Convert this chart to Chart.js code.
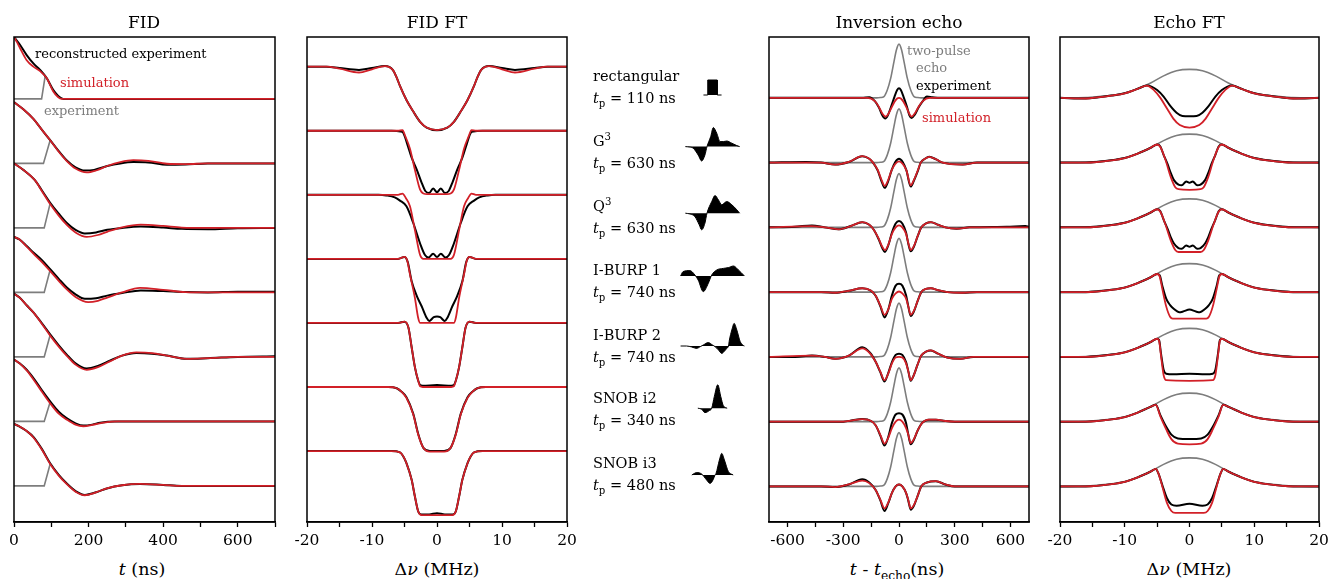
<!DOCTYPE html>
<html>
<head>
<meta charset="utf-8">
<script src="https://cdn.jsdelivr.net/npm/chart.js@4.4.0/dist/chart.umd.min.js"></script>
<style>
  body { margin: 0; width: 1330px; height: 579px; overflow: hidden; background: #fff; font-family: "DejaVu Serif", serif; color: #000; }
  canvas { position: absolute; }
  .t { position: absolute; white-space: nowrap; line-height: 1; }
  .title { font-size: 17px; width: 240px; text-align: center; top: 14px; }
  .axis { font-size: 17.5px; width: 240px; text-align: center; top: 561px; }
  .name { font-size: 14.5px; left: 593px; }
  .note { font-size: 13px; }
  .red { color: rgb(210, 32, 40); }
  .gray { color: rgb(125, 125, 125); }
  sub, sup { font-size: 70%; line-height: 0; }
</style>
</head>
<body>

<canvas id="fid" width="305" height="525" style="left:-8px;top:29px;width:305px;height:525px"></canvas>
<canvas id="fidft" width="304" height="525" style="left:285px;top:29px;width:304px;height:525px"></canvas>
<canvas id="pulses" width="69" height="485" style="left:678px;top:37px;width:69px;height:485px"></canvas>
<canvas id="echo" width="304" height="525" style="left:747px;top:29px;width:304px;height:525px"></canvas>
<canvas id="echoft" width="303" height="525" style="left:1038px;top:29px;width:303px;height:525px"></canvas>

<div class="t title" style="left:24px">FID</div>
<div class="t title" style="left:317px">FID FT</div>
<div class="t title" style="left:779px">Inversion echo</div>
<div class="t title" style="left:1069px">Echo FT</div>

<div class="t axis" style="left:22px"><i>t</i> (ns)</div>
<div class="t axis" style="left:317px">Δ<i>ν</i> (MHz)</div>
<div class="t axis" style="left:777px"><i>t</i> - <i>t</i><sub>echo</sub>(ns)</div>
<div class="t axis" style="left:1069px">Δ<i>ν</i> (MHz)</div>

<div class="t note" style="left:35px;top:47px">reconstructed experiment</div>
<div class="t note red" style="left:60px;top:76px">simulation</div>
<div class="t note gray" style="left:44px;top:104px">experiment</div>

<div class="t note gray" style="left:907px;top:44px">two-pulse</div>
<div class="t note gray" style="left:916px;top:61px">echo</div>
<div class="t note" style="left:916px;top:79px">experiment</div>
<div class="t note red" style="left:922px;top:111px">simulation</div>

<div class="t name" style="top:69px">rectangular</div>
<div class="t name" style="top:91px"><i>t</i><sub>p</sub> = 110 ns</div>
<div class="t name" style="top:134px">G<sup>3</sup></div>
<div class="t name" style="top:156px"><i>t</i><sub>p</sub> = 630 ns</div>
<div class="t name" style="top:199px">Q<sup>3</sup></div>
<div class="t name" style="top:221px"><i>t</i><sub>p</sub> = 630 ns</div>
<div class="t name" style="top:263px">I-BURP 1</div>
<div class="t name" style="top:285px"><i>t</i><sub>p</sub> = 740 ns</div>
<div class="t name" style="top:328px">I-BURP 2</div>
<div class="t name" style="top:350px"><i>t</i><sub>p</sub> = 740 ns</div>
<div class="t name" style="top:391px">SNOB i2</div>
<div class="t name" style="top:413px"><i>t</i><sub>p</sub> = 340 ns</div>
<div class="t name" style="top:456px">SNOB i3</div>
<div class="t name" style="top:478px"><i>t</i><sub>p</sub> = 480 ns</div>

<script>
// pulses, top to bottom: rectangular, G3, Q3, I-BURP 1, I-BURP 2, SNOB i2, SNOB i3

//--- FID: t (ns), amplitude in trace spacings ---//
const fidTicks = [0, 100, 200, 300, 400, 500, 600, 700];
const fidLabels = [0, 200, 400, 600];

// reconstructed experiment
const fidExp = [
  [[0,0.96],[8,0.9],[16,0.84],[34,0.68],[52,0.55],[70,0.45],[88,0.32],[105,0.14],[118,0.05],[132,0],[700,0]],
  [[0,0.95],[25,0.84],[52,0.69],[75,0.52],[97,0.36],[120,0.19],[141,0.05],[165,-0.06],[190,-0.11],[215,-0.1],[250,-0.04],[285,0],[320,0.02],[360,0.015],[410,-0.02],[460,-0.015],[520,0],[700,0]],
  [[0,1.0],[25,0.9],[56,0.74],[75,0.58],[97,0.39],[120,0.22],[141,0.08],[165,-0.03],[190,-0.085],[220,-0.07],[250,-0.03],[290,0],[340,0.02],[400,0.005],[450,-0.015],[520,-0.02],[600,-0.005],[700,0]],
  [[0,0.86],[15,0.82],[34,0.72],[52,0.62],[75,0.5],[97,0.36],[120,0.21],[141,0.08],[165,-0.03],[190,-0.1],[220,-0.09],[250,-0.05],[290,-0.01],[340,0.03],[400,0.02],[460,0.005],[520,0],[600,0.01],[700,0.01]],
  [[0,0.98],[15,0.92],[34,0.8],[52,0.69],[75,0.52],[97,0.35],[120,0.18],[141,0.04],[165,-0.1],[195,-0.18],[225,-0.14],[257,-0.06],[290,0.02],[328,0.06],[370,0.05],[410,0.02],[463,-0.03],[520,-0.02],[600,0],[700,0.01]],
  [[0,0.96],[15,0.9],[34,0.8],[56,0.64],[75,0.48],[97,0.31],[120,0.15],[141,0.05],[165,-0.03],[186,-0.065],[210,-0.05],[231,-0.02],[270,0],[700,0]],
  [[0,0.96],[15,0.92],[34,0.85],[52,0.76],[75,0.57],[97,0.35],[120,0.17],[141,0.04],[165,-0.08],[190,-0.14],[220,-0.1],[249,-0.04],[290,0.01],[338,0.03],[400,0.015],[450,0],[700,0]]
];
// simulation
const fidSim = [
  [[0,0.96],[8,0.88],[16,0.79],[34,0.6],[52,0.5],[70,0.43],[88,0.32],[105,0.12],[118,0.03],[127,0],[700,0]],
  [[0,0.95],[25,0.84],[52,0.69],[75,0.52],[97,0.36],[120,0.18],[141,0.04],[165,-0.08],[195,-0.14],[220,-0.11],[250,-0.04],[285,0.02],[320,0.05],[360,0.04],[410,-0.005],[460,-0.01],[520,0],[700,0]],
  [[0,1.0],[25,0.9],[56,0.74],[75,0.57],[97,0.37],[120,0.19],[141,0.05],[165,-0.07],[195,-0.14],[225,-0.11],[250,-0.06],[290,0.01],[340,0.05],[400,0.03],[450,0.005],[520,0],[700,0]],
  [[0,0.86],[15,0.82],[34,0.71],[52,0.6],[75,0.47],[97,0.33],[120,0.18],[141,0.05],[165,-0.07],[199,-0.15],[225,-0.13],[250,-0.08],[290,0],[338,0.07],[400,0.04],[460,0.005],[520,0],[700,0]],
  [[0,0.98],[15,0.92],[34,0.8],[52,0.69],[75,0.51],[97,0.33],[120,0.16],[141,0.02],[165,-0.12],[195,-0.2],[225,-0.16],[257,-0.07],[290,0.02],[328,0.07],[370,0.06],[410,0.02],[463,-0.03],[520,-0.02],[600,0],[700,0]],
  [[0,0.96],[15,0.9],[34,0.79],[56,0.62],[75,0.46],[97,0.28],[120,0.12],[141,0.03],[165,-0.05],[186,-0.075],[210,-0.055],[240,-0.02],[280,0],[700,0]],
  [[0,0.96],[15,0.92],[34,0.85],[52,0.75],[75,0.56],[97,0.34],[120,0.16],[141,0.03],[165,-0.09],[190,-0.145],[220,-0.1],[249,-0.04],[290,0.01],[338,0.03],[400,0.015],[450,0],[700,0]]
];
// measured experiment, flat until the dead time is over
const fidRaw = [
  [[0,0],[74,0],[84,0.37]],
  [[0,0],[79,0],[97,0.36]],
  [[0,0],[81,0],[97,0.38]],
  [[0,0],[81,0],[97,0.35]],
  [[0,0],[81,0],[97,0.34]],
  [[0,0],[81,0],[97,0.3]],
  [[0,0],[81,0],[97,0.34]]
];

//--- FID FT: frequency offset (MHz) ---//
const freqTicks = [-20, -15, -10, -5, 0, 5, 10, 15, 20];
const freqLabels = [-20, -10, 0, 10, 20];

const ftExp = [
  [[-20,0],[-17,0],[-15,-0.02],[-12,-0.05],[-10,-0.02],[-8,0.01],[-6.8,-0.05],[-6.2,-0.17],[-5.7,-0.3],[-4.7,-0.52],[-3.65,-0.7],[-2.6,-0.86],[-1.6,-0.95],[0,-0.99],[1.6,-0.95],[2.6,-0.86],[3.65,-0.7],[4.7,-0.52],[5.7,-0.3],[6.2,-0.17],[6.8,-0.05],[8,0.01],[10,-0.02],[12,-0.05],[15,-0.02],[17,0],[20,0]],
  [[-20,0],[-7,0],[-5.6,-0.01],[-5.2,-0.03],[-4.6,-0.2],[-3.9,-0.42],[-3.1,-0.61],[-2.4,-0.8],[-1.8,-0.94],[-1.2,-0.97],[-0.6,-0.9],[0,-0.96],[0.6,-0.9],[1.2,-0.97],[1.8,-0.94],[2.4,-0.8],[3.1,-0.61],[3.9,-0.42],[4.6,-0.2],[5.2,-0.03],[5.6,-0.01],[7,0],[20,0]],
  [[-20,0],[-9,0],[-7.8,-0.01],[-6.5,-0.04],[-5.7,-0.09],[-4.7,-0.18],[-3.65,-0.44],[-2.6,-0.76],[-1.85,-0.94],[-1.3,-0.98],[-0.6,-0.92],[0,-0.97],[0.6,-0.92],[1.3,-0.98],[1.85,-0.94],[2.6,-0.76],[3.65,-0.44],[4.7,-0.18],[5.7,-0.09],[6.5,-0.04],[7.8,-0.01],[9,0],[20,0]],
  [[-20,0],[-6,0],[-5,0.03],[-4.5,-0.05],[-3.9,-0.35],[-3.1,-0.58],[-2.36,-0.74],[-1.6,-0.92],[-1.2,-0.97],[-0.5,-0.91],[0,-0.9],[0.5,-0.91],[1.2,-0.97],[1.6,-0.92],[2.36,-0.74],[3.1,-0.58],[3.9,-0.35],[4.5,-0.05],[5,0.03],[6,0],[20,0]],
  [[-20,0],[-6,0],[-5,0.02],[-4.4,-0.07],[-3.9,-0.38],[-3.4,-0.69],[-2.9,-0.9],[-2.6,-0.97],[-2.2,-0.98],[0,-0.97],[2.2,-0.98],[2.6,-0.97],[2.9,-0.9],[3.4,-0.69],[3.9,-0.38],[4.4,-0.07],[5,0.02],[6,0],[20,0]],
  [[-20,0],[-7.5,0],[-6.2,-0.02],[-5.5,-0.07],[-4.7,-0.16],[-3.65,-0.42],[-2.9,-0.73],[-2.1,-0.95],[-1.1,-1.0],[0,-1.0],[1.1,-1.0],[2.1,-0.95],[2.9,-0.73],[3.65,-0.42],[4.7,-0.16],[5.5,-0.07],[6.2,-0.02],[7.5,0],[20,0]],
  [[-20,0],[-7,0],[-5.7,-0.02],[-5.2,-0.08],[-4.7,-0.19],[-3.9,-0.45],[-3.4,-0.71],[-2.9,-0.94],[-2.4,-0.99],[-1.2,-0.99],[0,-0.97],[1.2,-0.99],[2.4,-0.99],[2.9,-0.94],[3.4,-0.71],[3.9,-0.45],[4.7,-0.19],[5.2,-0.08],[5.7,-0.02],[7,0],[20,0]]
];
const ftSim = [
  [[-20,0],[-17,0],[-15,-0.03],[-12,-0.09],[-10,-0.04],[-8,0.01],[-6.8,-0.05],[-6.2,-0.17],[-5.7,-0.3],[-4.7,-0.52],[-3.65,-0.7],[-2.6,-0.86],[-1.6,-0.95],[0,-0.99],[1.6,-0.95],[2.6,-0.86],[3.65,-0.7],[4.7,-0.52],[5.7,-0.3],[6.2,-0.17],[6.8,-0.05],[8,0.01],[10,-0.04],[12,-0.09],[15,-0.03],[17,0],[20,0]],
  [[-20,0],[-6,0],[-5.3,0.01],[-4.9,-0.08],[-4.16,-0.28],[-3.4,-0.61],[-2.6,-0.92],[-2.1,-0.98],[-1.5,-0.99],[0,-0.99],[1.5,-0.99],[2.1,-0.98],[2.6,-0.92],[3.4,-0.61],[4.16,-0.28],[4.9,-0.08],[5.3,0.01],[6,0],[20,0]],
  [[-20,0],[-6,0],[-5.3,0.02],[-4.8,-0.05],[-4.16,-0.18],[-3.4,-0.55],[-2.6,-0.94],[-2.1,-1.0],[0,-1.0],[2.1,-1.0],[2.6,-0.94],[3.4,-0.55],[4.16,-0.18],[4.8,-0.05],[5.3,0.02],[6,0],[20,0]],
  [[-20,0],[-6,0],[-5,0.03],[-4.6,-0.02],[-4.16,-0.24],[-3.4,-0.61],[-2.9,-0.92],[-2.6,-1.0],[0,-1.0],[2.6,-1.0],[2.9,-0.92],[3.4,-0.61],[4.16,-0.24],[4.6,-0.02],[5,0.03],[6,0],[20,0]],
  [[-20,0],[-6,0],[-5,0.02],[-4.4,-0.07],[-3.9,-0.38],[-3.4,-0.69],[-2.9,-0.9],[-2.6,-0.99],[-2.2,-1.0],[0,-1.0],[2.2,-1.0],[2.6,-0.99],[2.9,-0.9],[3.4,-0.69],[3.9,-0.38],[4.4,-0.07],[5,0.02],[6,0],[20,0]],
  [[-20,0],[-7.5,0],[-6.2,-0.02],[-5.5,-0.07],[-4.7,-0.17],[-3.65,-0.43],[-2.9,-0.74],[-2.1,-0.95],[-1.1,-1.01],[0,-1.01],[1.1,-1.01],[2.1,-0.95],[2.9,-0.74],[3.65,-0.43],[4.7,-0.17],[5.5,-0.07],[6.2,-0.02],[7.5,0],[20,0]],
  [[-20,0],[-7,0],[-5.7,-0.02],[-5.2,-0.08],[-4.7,-0.19],[-3.9,-0.45],[-3.4,-0.71],[-2.9,-0.94],[-2.4,-1.0],[0,-1.0],[2.4,-1.0],[2.9,-0.94],[3.4,-0.71],[3.9,-0.45],[4.7,-0.19],[5.2,-0.08],[5.7,-0.02],[7,0],[20,0]]
];

//--- pulse shapes: t (ns) from the pulse centre, relative amplitude ---//
const pulseShapes = [
  [[-105,0],[-55,0],[-55,0.75],[55,0.75],[55,0],[105,0]],
  [[-315,0],[-270,-0.02],[-224,-0.08],[-166,-0.42],[-126,-0.72],[-88,-0.42],[-64,0],[-21,0.5],[9,0.95],[49,0.67],[88,0.25],[126,0.25],[165,0.28],[224,0.17],[282,0.05],[315,0]],
  [[-315,0],[-260,-0.04],[-204,-0.17],[-154,-0.58],[-126,-0.83],[-88,-0.5],[-64,0],[-9,0.58],[29,0.88],[68,0.67],[107,0.42],[165,0.58],[224,0.42],[282,0.17],[315,0]],
  [[-370,0],[-341,0.22],[-263,0.27],[-204,0.05],[-166,-0.2],[-107,-0.78],[-49,-0.37],[-9,0.05],[49,0.3],[126,0.38],[184,0.42],[243,0.5],[301,0.3],[359,0.05],[370,0]],
  [[-370,0],[-301,0],[-240,-0.05],[-184,-0.12],[-140,-0.03],[-107,0.05],[-49,0.17],[0,0.05],[29,-0.03],[70,-0.2],[107,-0.37],[140,-0.25],[165,-0.12],[185,0],[196,0.3],[224,0.8],[251,1.13],[282,0.8],[321,0.22],[359,0.02],[370,0]],
  [[-170,0],[-126,-0.05],[-88,-0.22],[-37,-0.12],[-9,0],[21,0.58],[61,1.17],[96,0.58],[126,0.12],[170,0]],
  [[-240,0],[-184,0.12],[-126,0.05],[-68,-0.25],[-29,-0.42],[9,-0.22],[29,0],[41,0.08],[80,0.75],[107,1.08],[138,0.75],[184,0.17],[240,0]]
];

//--- inversion echo: t - t_echo (ns) ---//
const echoTicks = [-600, -450, -300, -150, 0, 150, 300, 450, 600];
const echoLabels = [-600, -300, 0, 300, 600];

// two-pulse echo, same reference for every row
const echoRef = [[-700,0],[-120,0],[-100,0.005],[-81,0.02],[-63,0.12],[-45,0.3],[-27,0.56],[-14,0.74],[0,0.83],[14,0.74],[27,0.56],[45,0.3],[63,0.12],[81,0.02],[100,0.005],[120,0],[700,0]];

const echoExp = [
  [[-700,0],[-200,0],[-160,0.01],[-130,-0.05],[-108,-0.15],[-90,-0.27],[-74,-0.32],[-60,-0.27],[-42,-0.13],[-24,0.02],[-10,0.12],[0,0.15],[10,0.12],[24,0.02],[42,-0.13],[56,-0.27],[68,-0.31],[85,-0.26],[105,-0.15],[128,-0.05],[150,0.02],[180,0.01],[220,0],[700,0]],
  [[-700,0],[-500,0.01],[-420,0],[-343,-0.03],[-270,0.01],[-198,0.1],[-160,0.06],[-140,0],[-115,-0.12],[-95,-0.28],[-77,-0.39],[-60,-0.3],[-40,-0.12],[-20,0.01],[0,0.06],[20,0.01],[40,-0.12],[63,-0.37],[80,-0.28],[100,-0.14],[117,0],[140,0.06],[163,0.09],[200,0.05],[235,0],[343,-0.03],[420,0],[700,0]],
  [[-700,0],[-560,0.01],[-469,0.03],[-400,0],[-325,-0.03],[-260,0.02],[-198,0.08],[-160,0.04],[-135,-0.04],[-110,-0.18],[-90,-0.32],[-76,-0.38],[-58,-0.28],[-38,-0.08],[-18,0.06],[0,0.1],[18,0.06],[38,-0.08],[50,-0.25],[63,-0.37],[80,-0.3],[100,-0.14],[120,0],[145,0.06],[172,0.08],[210,0.04],[250,0],[310,-0.02],[380,0],[580,0.01],[680,0.02],[700,0.01]],
  [[-700,0],[-420,0],[-343,-0.01],[-270,0.02],[-198,0.06],[-150,0.02],[-125,-0.06],[-100,-0.22],[-78,-0.39],[-58,-0.27],[-38,-0.05],[-18,0.1],[0,0.13],[18,0.1],[38,-0.05],[50,-0.22],[63,-0.37],[80,-0.3],[100,-0.14],[120,0],[145,0.05],[172,0.06],[210,0.03],[260,0],[343,-0.01],[420,0],[700,0]],
  [[-700,0],[-560,0],[-469,0.02],[-400,0],[-343,-0.03],[-270,0.02],[-198,0.15],[-155,0.06],[-125,-0.08],[-100,-0.24],[-78,-0.38],[-58,-0.25],[-38,-0.08],[-18,0.03],[0,0.05],[18,0.03],[38,-0.08],[50,-0.22],[63,-0.37],[80,-0.28],[100,-0.12],[120,0.02],[145,0.08],[172,0.1],[210,0.05],[260,-0.01],[330,-0.03],[400,0],[700,0]],
  [[-700,0],[-300,0],[-250,0.02],[-198,0.04],[-150,0.01],[-125,-0.06],[-100,-0.22],[-78,-0.37],[-58,-0.24],[-38,-0.02],[-18,0.11],[0,0.13],[18,0.11],[38,-0.02],[50,-0.2],[63,-0.35],[80,-0.28],[100,-0.14],[125,-0.02],[160,0.03],[199,0.03],[250,0.01],[300,0],[700,0]],
  [[-700,0],[-420,0],[-343,-0.01],[-270,0.03],[-198,0.11],[-160,0.06],[-125,-0.06],[-100,-0.22],[-78,-0.38],[-58,-0.26],[-38,-0.1],[-18,0],[0,0.03],[18,0],[38,-0.1],[50,-0.22],[63,-0.36],[80,-0.3],[100,-0.15],[120,0],[150,0.06],[199,0.08],[250,0.03],[300,0],[700,0]]
];
const echoSim = [
  [[-700,0],[-170,0],[-130,-0.05],[-108,-0.14],[-90,-0.24],[-72,-0.29],[-58,-0.25],[-42,-0.16],[-24,-0.06],[-10,-0.01],[0,0],[10,-0.01],[24,-0.06],[42,-0.16],[56,-0.25],[68,-0.29],[85,-0.24],[105,-0.14],[128,-0.05],[165,0],[700,0]],
  [[-700,0],[-420,0],[-343,-0.03],[-270,0.01],[-198,0.1],[-160,0.06],[-140,0],[-115,-0.11],[-95,-0.26],[-77,-0.36],[-60,-0.28],[-40,-0.12],[-20,-0.02],[0,0.02],[20,-0.02],[40,-0.12],[63,-0.35],[80,-0.27],[100,-0.13],[117,0],[140,0.06],[163,0.09],[200,0.05],[235,0],[343,-0.03],[420,0],[700,0]],
  [[-700,0],[-469,0.02],[-400,0],[-325,-0.03],[-260,0.02],[-198,0.08],[-160,0.04],[-135,-0.04],[-110,-0.17],[-90,-0.3],[-76,-0.35],[-58,-0.27],[-38,-0.1],[-18,0],[0,0.03],[18,0],[38,-0.1],[50,-0.24],[63,-0.35],[80,-0.29],[100,-0.14],[120,0],[145,0.06],[172,0.08],[210,0.04],[250,0],[310,-0.02],[380,0],[700,0]],
  [[-700,0],[-420,0],[-343,-0.01],[-270,0.02],[-198,0.06],[-150,0.02],[-125,-0.06],[-100,-0.21],[-78,-0.35],[-58,-0.27],[-38,-0.1],[-18,-0.02],[0,0.01],[18,-0.02],[38,-0.1],[50,-0.22],[63,-0.35],[80,-0.29],[100,-0.14],[120,0],[145,0.05],[172,0.06],[210,0.03],[260,0],[343,-0.01],[420,0],[700,0]],
  [[-700,0],[-469,0.02],[-400,0],[-343,-0.03],[-270,0.02],[-198,0.13],[-155,0.05],[-125,-0.08],[-100,-0.23],[-78,-0.36],[-58,-0.26],[-38,-0.1],[-18,-0.01],[0,0],[18,-0.01],[38,-0.1],[50,-0.22],[63,-0.36],[80,-0.28],[100,-0.12],[120,0.02],[145,0.08],[172,0.1],[210,0.05],[260,-0.01],[330,-0.03],[400,0],[700,0]],
  [[-700,0],[-300,0],[-250,0.02],[-198,0.04],[-150,0.01],[-125,-0.06],[-100,-0.21],[-78,-0.34],[-58,-0.25],[-38,-0.1],[-18,0],[0,0.03],[18,0],[38,-0.1],[50,-0.2],[63,-0.33],[80,-0.27],[100,-0.14],[125,-0.02],[160,0.03],[199,0.03],[250,0.01],[300,0],[700,0]],
  [[-700,0],[-420,0],[-343,-0.01],[-270,0.03],[-198,0.09],[-160,0.05],[-125,-0.06],[-100,-0.21],[-78,-0.34],[-58,-0.25],[-38,-0.1],[-18,0],[0,0.03],[18,0],[38,-0.1],[50,-0.21],[63,-0.34],[80,-0.29],[100,-0.15],[120,0],[150,0.06],[199,0.08],[250,0.03],[300,0],[700,0]]
];

//--- echo FT ---//
const eftRef = [[-20,0],[-16,0.005],[-14,0.02],[-12,0.04],[-10,0.075],[-8,0.14],[-6,0.23],[-4,0.34],[-2,0.42],[0,0.44],[2,0.42],[4,0.34],[6,0.23],[8,0.14],[10,0.075],[12,0.04],[14,0.02],[16,0.005],[20,0]];

const eftExp = [
  [[-20,0],[-16,-0.01],[-14,0.01],[-12,0.035],[-10,0.07],[-8,0.14],[-6.6,0.19],[-5.8,0.17],[-5,0.12],[-4,0.02],[-3,-0.12],[-2,-0.23],[-1.1,-0.28],[0,-0.285],[1.1,-0.28],[2,-0.23],[3,-0.12],[4,0.02],[5,0.12],[5.8,0.17],[6.6,0.19],[8,0.14],[10,0.07],[12,0.035],[14,0.01],[16,-0.01],[20,0]],
  [[-20,0],[-16,0],[-12,0.035],[-10,0.07],[-8,0.14],[-6,0.23],[-5,0.28],[-4.5,0.25],[-4,0.12],[-3.4,-0.02],[-2.9,-0.16],[-2.4,-0.27],[-1.7,-0.34],[-1.2,-0.35],[-0.5,-0.29],[0,-0.31],[0.5,-0.29],[1.2,-0.35],[1.7,-0.34],[2.4,-0.27],[2.9,-0.16],[3.4,-0.02],[4,0.12],[4.5,0.25],[5,0.28],[6,0.23],[8,0.14],[10,0.07],[12,0.035],[16,0],[20,0]],
  [[-20,0],[-16,0],[-12,0.035],[-10,0.07],[-8,0.14],[-6,0.23],[-5,0.28],[-4.5,0.25],[-4,0.12],[-3.4,-0.02],[-2.9,-0.15],[-2.4,-0.25],[-1.7,-0.32],[-1.2,-0.33],[-0.5,-0.28],[0,-0.3],[0.5,-0.28],[1.2,-0.33],[1.7,-0.32],[2.4,-0.25],[2.9,-0.15],[3.4,-0.02],[4,0.12],[4.5,0.25],[5,0.28],[6,0.23],[8,0.14],[10,0.07],[12,0.035],[16,0],[20,0]],
  [[-20,0],[-16,0],[-12,0.035],[-10,0.07],[-8,0.14],[-6,0.23],[-5,0.28],[-4.6,0.26],[-4.2,0.1],[-3.6,-0.1],[-3,-0.2],[-2.4,-0.26],[-1.6,-0.31],[-1,-0.3],[0,-0.27],[1,-0.3],[1.6,-0.31],[2.4,-0.26],[3,-0.2],[3.6,-0.1],[4.2,0.1],[4.6,0.26],[5,0.28],[6,0.23],[8,0.14],[10,0.07],[12,0.035],[16,0],[20,0]],
  [[-20,0],[-16,0],[-12,0.035],[-10,0.07],[-8,0.14],[-6,0.23],[-5,0.28],[-4.7,0.26],[-4.4,0.05],[-4,-0.2],[-3.6,-0.26],[-2.5,-0.27],[0,-0.26],[2.5,-0.27],[3.6,-0.26],[4,-0.2],[4.4,0.05],[4.7,0.26],[5,0.28],[6,0.23],[8,0.14],[10,0.07],[12,0.035],[16,0],[20,0]],
  [[-20,0],[-16,0],[-12,0.035],[-10,0.07],[-8,0.14],[-6,0.23],[-5.2,0.26],[-4.5,0.1],[-3.6,-0.08],[-2.8,-0.2],[-1.8,-0.26],[0,-0.27],[1.8,-0.26],[2.8,-0.2],[3.6,-0.08],[4.5,0.1],[5.2,0.26],[6,0.23],[8,0.14],[10,0.07],[12,0.035],[16,0],[20,0]],
  [[-20,0],[-16,0],[-12,0.035],[-10,0.07],[-8,0.14],[-6,0.23],[-5.2,0.27],[-4.8,0.2],[-4.2,0.02],[-3.5,-0.18],[-2.8,-0.28],[-2,-0.3],[0,-0.27],[2,-0.3],[2.8,-0.28],[3.5,-0.18],[4.2,0.02],[4.8,0.2],[5.2,0.27],[6,0.23],[8,0.14],[10,0.07],[12,0.035],[16,0],[20,0]]
];
const eftSim = [
  [[-20,0],[-16,-0.01],[-14,0.01],[-12,0.035],[-10,0.07],[-8,0.14],[-6.6,0.19],[-5.5,0.12],[-4.5,0],[-3.5,-0.16],[-2.5,-0.32],[-1.5,-0.42],[0,-0.46],[1.5,-0.42],[2.5,-0.32],[3.5,-0.16],[4.5,0],[5.5,0.12],[6.6,0.19],[8,0.14],[10,0.07],[12,0.035],[14,0.01],[16,-0.01],[20,0]],
  [[-20,0],[-16,0],[-12,0.035],[-10,0.07],[-8,0.14],[-6,0.23],[-5,0.28],[-4.5,0.24],[-3.7,0.04],[-2.9,-0.22],[-2.2,-0.38],[-1.7,-0.41],[0,-0.42],[1.7,-0.41],[2.2,-0.38],[2.9,-0.22],[3.7,0.04],[4.5,0.24],[5,0.28],[6,0.23],[8,0.14],[10,0.07],[12,0.035],[16,0],[20,0]],
  [[-20,0],[-16,0],[-12,0.035],[-10,0.07],[-8,0.14],[-6,0.23],[-5,0.28],[-4.5,0.24],[-3.7,0.04],[-2.9,-0.2],[-2.2,-0.35],[-1.7,-0.38],[0,-0.38],[1.7,-0.38],[2.2,-0.35],[2.9,-0.2],[3.7,0.04],[4.5,0.24],[5,0.28],[6,0.23],[8,0.14],[10,0.07],[12,0.035],[16,0],[20,0]],
  [[-20,0],[-16,0],[-12,0.035],[-10,0.07],[-8,0.14],[-6,0.23],[-5,0.28],[-4.6,0.24],[-4.2,0.05],[-3.6,-0.22],[-3,-0.38],[-2.6,-0.41],[0,-0.41],[2.6,-0.41],[3,-0.38],[3.6,-0.22],[4.2,0.05],[4.6,0.24],[5,0.28],[6,0.23],[8,0.14],[10,0.07],[12,0.035],[16,0],[20,0]],
  [[-20,0],[-16,0],[-12,0.035],[-10,0.07],[-8,0.14],[-6,0.23],[-5,0.28],[-4.7,0.25],[-4.4,0.02],[-4,-0.28],[-3.6,-0.36],[0,-0.37],[3.6,-0.36],[4,-0.28],[4.4,0.02],[4.7,0.25],[5,0.28],[6,0.23],[8,0.14],[10,0.07],[12,0.035],[16,0],[20,0]],
  [[-20,0],[-16,0],[-12,0.035],[-10,0.07],[-8,0.14],[-6,0.23],[-5.2,0.26],[-4.5,0.08],[-3.6,-0.12],[-2.8,-0.27],[-1.8,-0.34],[0,-0.35],[1.8,-0.34],[2.8,-0.27],[3.6,-0.12],[4.5,0.08],[5.2,0.26],[6,0.23],[8,0.14],[10,0.07],[12,0.035],[16,0],[20,0]],
  [[-20,0],[-16,0],[-12,0.035],[-10,0.07],[-8,0.14],[-6,0.23],[-5.2,0.27],[-4.8,0.2],[-4.2,0],[-3.5,-0.25],[-2.8,-0.38],[-2.2,-0.41],[0,-0.41],[2.2,-0.41],[2.8,-0.38],[3.5,-0.25],[4.2,0],[4.8,0.2],[5.2,0.27],[6,0.23],[8,0.14],[10,0.07],[12,0.035],[16,0],[20,0]]
];

//--- drawing ---//
const RED = 'rgb(210,32,40)';
const GRAY = 'rgb(125,125,125)';
const rowOffsets = [6, 5, 4, 3, 2, 1, 0];
const pulseRows = [21.35, 18.77, 15.44, 12.3, 8.8, 5.69, 2.35];

// layer: lower order is drawn on top (simulation over experiment over reference)
function traces(curves, color, width, layer, extra) {
  return curves.map((pts, i) => Object.assign({
    data: pts.map(([x, y]) => ({ x: x, y: y + rowOffsets[i] })),
    borderColor: color,
    borderWidth: width,
    pointRadius: 0,
    fill: false,
    order: layer,
    cubicInterpolationMode: 'monotone'
  }, extra || {}));
}

// box round the plot area
const frame = {
  id: 'frame',
  afterDatasetsDraw(chart) {
    const { ctx, chartArea: a } = chart;
    ctx.save();
    ctx.strokeStyle = '#000';
    ctx.lineWidth = 1.5;
    ctx.strokeRect(a.left, a.top, a.right - a.left, a.bottom - a.top);
    ctx.restore();
  }
};

function panel(id, xMin, xMax, yMin, yMax, ticks, labels, datasets) {
  return new Chart(document.getElementById(id), {
    type: 'line',
    data: { datasets: datasets },
    options: {
      responsive: false,
      animation: false,
      layout: { padding: { left: 22, right: 22, top: 8, bottom: 2 } },
      plugins: { legend: { display: false }, tooltip: { enabled: false } },
      scales: {
        x: {
          type: 'linear',
          min: xMin,
          max: xMax,
          afterBuildTicks: (scale) => { scale.ticks = ticks.map(v => ({ value: v })); },
          afterFit: (scale) => { scale.height = 30; },
          grid: { drawOnChartArea: false, tickLength: 5, tickColor: '#000', tickWidth: 1.3 },
          border: { color: '#000', width: 1.5 },
          ticks: {
            color: '#000',
            padding: 5,
            maxRotation: 0,
            autoSkip: false,
            font: { family: 'DejaVu Serif', size: 15.5 },
            callback: (v) => labels.includes(v) ? String(v) : ''
          }
        },
        y: { display: false, min: yMin, max: yMax }
      }
    },
    plugins: [frame]
  });
}

panel('fid', 0, 700, -0.56, 6.96, fidTicks, fidLabels, [
  ...traces(fidRaw, GRAY, 1.6, 2, { cubicInterpolationMode: 'default', tension: 0 }),
  ...traces(fidExp, '#000', 2, 1),
  ...traces(fidSim, RED, 1.8, 0)
]);

panel('fidft', -20, 20, -1.108, 6.464, freqTicks, freqLabels, [
  ...traces(ftExp, '#000', 2, 1),
  ...traces(ftSim, RED, 1.8, 0)
]);

panel('echo', -700, 700, -0.55, 6.94, echoTicks, echoLabels, [
  ...traces(rowOffsets.map(() => echoRef), GRAY, 1.6, 2),
  ...traces(echoExp, '#000', 2, 1),
  ...traces(echoSim, RED, 1.8, 0)
]);

panel('echoft', -20, 20, -0.55, 6.94, freqTicks, freqLabels, [
  ...traces(rowOffsets.map(() => eftRef), GRAY, 1.6, 2),
  ...traces(eftExp, '#000', 2, 1),
  ...traces(eftSim, RED, 1.8, 0)
]);

// filled pulse shapes next to their names
new Chart(document.getElementById('pulses'), {
  type: 'line',
  data: {
    datasets: pulseShapes.map((pts, i) => ({
      data: pts.map(([x, y]) => ({ x: x, y: y + pulseRows[i] })),
      borderColor: '#000',
      backgroundColor: '#000',
      borderWidth: 1,
      pointRadius: 0,
      fill: { value: pulseRows[i] },
      cubicInterpolationMode: i === 0 ? 'default' : 'monotone',
      tension: 0
    }))
  },
  options: {
    responsive: false,
    animation: false,
    layout: { padding: 0 },
    plugins: { legend: { display: false }, tooltip: { enabled: false } },
    scales: {
      x: { type: 'linear', display: false, min: -400, max: 400 },
      y: { display: false, min: 0, max: 24.25 }
    }
  }
});
</script>
</body>
</html>
